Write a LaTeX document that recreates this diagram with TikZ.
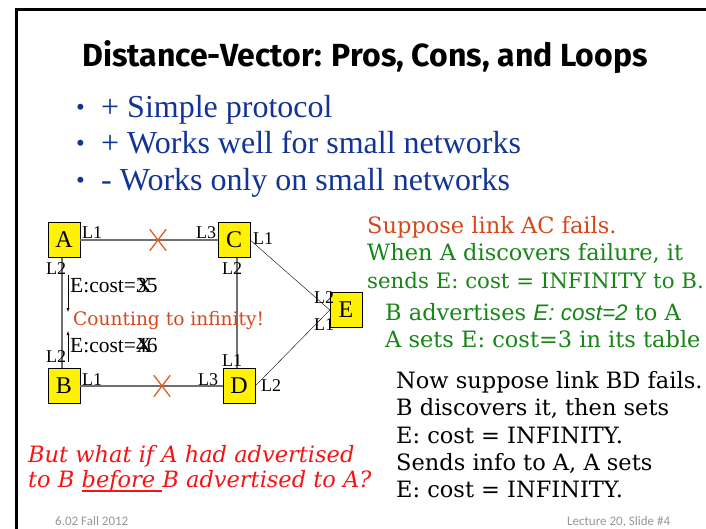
\documentclass[tikz,border=0pt]{standalone}
\usepackage{fontspec}
\setmainfont{DejaVu Serif}
\newfontfamily\titlefont{Fira Sans}
\newfontfamily\timesfont{Liberation Serif}
\newfontfamily\arialfont{Liberation Sans}
\newfontfamily\footfont{Carlito}
\usetikzlibrary{arrows,shapes,shapes.misc}
\newcommand{\setpx}[1]{\fontsize{#1}{#1}\selectfont}
\newsavebox{\ulbox}
\newcommand{\redline}[1]{\sbox{\ulbox}{#1}\rlap{\rule[-5pt]{\wd\ulbox}{1.6pt}}\usebox{\ulbox}}
\definecolor{bulletblue}{RGB}{18,52,150}
\definecolor{rust}{RGB}{212,72,28}
\definecolor{pgreen}{RGB}{22,134,22}
\definecolor{askred}{RGB}{245,20,20}
\definecolor{linkgray}{RGB}{112,112,112}
\definecolor{footgray}{RGB}{150,150,150}
\definecolor{cutorange}{RGB}{232,90,35}
\tikzstyle{router}=[draw,fill=yellow,minimum width=32pt,minimum height=35pt,inner sep=0pt,font=\timesfont\setpx{24}]
\tikzstyle{link}=[draw=linkgray,line width=2pt]
\tikzstyle{wire}=[draw,thin]
\tikzstyle{port}=[inner sep=0pt,font=\timesfont\setpx{18}]
\tikzstyle{cut}=[cross out,draw=cutorange,line width=1.3pt,minimum width=15pt,minimum height=20pt,inner sep=0pt]
\tikzstyle{txt}=[anchor=base west,inner sep=0pt]
\begin{document}
\begin{tikzpicture}[x=1pt,y=-1pt]
    \useasboundingbox (0,0) rectangle (706,528);
    \clip (0,0) rectangle (706,528);
    % Slide frame and title
    \draw[line width=3pt] (16,540) -- (16,9) -- (720,9);
    \node[txt,font=\titlefont\bfseries\setpx{32}] (title) at (82,66) {Distance-Vector: Pros, Cons, and Loops};
    % Bullet list
    \foreach \y/\name/\txt in {117/pro1/{+ Simple protocol}, 153/pro2/{+ Works well for small networks}, 190/con1/{- Works only on small networks}}{
        \node[txt,font=\timesfont\setpx{25},text=bulletblue] (dot-\name) at (76,\y-2) {\textbullet};
        \node[txt,font=\timesfont\setpx{32},text=bulletblue] (\name) at (101,\y) {\txt};
    }
    % First we draw the routers
    \foreach \pos/\name in {{(64,240)/A}, {(234,240)/C}, {(64,386)/B}, {(239,386)/D}, {(346,310)/E}}
        \node[router] (\name) at \pos {\name};
    % Connect routers with links
    \path[link] (A) -- (C);
    \path[link] (B) -- (D);
    \path[link] ([xshift=-2pt]A.south) -- ([xshift=-2pt]B.north);
    \path[link] ([xshift=3pt]C.south) -- ([xshift=3pt]C.south |- D.north);
    \path[wire] (C.east) -- (E.west);
    \path[wire] (D.east) -- (E.west);
    % Failed links
    \node[cut] (cutAC) at (158,240) {};
    \node[cut] (cutBD) at (162,386) {};
    % Port labels
    \foreach \pos/\name/\lbl in {{(92,233)/pA1/L1}, {(56,269)/pA2/L2}, {(206,233)/pC3/L3}, {(263,239)/pC1/L1}, {(232,269)/pC2/L2},
        {(324,298)/pE2/L2}, {(324,325)/pE1/L1}, {(56,357)/pB2/L2}, {(92,380)/pB1/L1}, {(232,361)/pD1/L1}, {(208,380)/pD3/L3}, {(271,386)/pD2/L2}}
        \node[port] (\name) at \pos {\lbl};
    % Advertisements between A and B
    \node[txt,font=\timesfont\setpx{21.5}] (msgAB) at (70,292) {E:cost=\rlap{X}35};
    \node[txt,font=\timesfont\setpx{21.5}] (msgBA) at (70,352) {E:cost=\rlap{X}46};
    \coordinate (msgAB-top) at (68,275);
    \coordinate (msgAB-end) at (68,312);
    \coordinate (msgBA-top) at (68,362);
    \coordinate (msgBA-end) at (68,331);
    \draw[-latex] (msgAB-top) -- (msgAB-end);
    \draw[-latex] (msgBA-top) -- (msgBA-end);
    \node[txt,font=\setpx{18.6},text=rust] (count) at (73,325) {Counting to infinity!};
    % Story on the right
    \node[txt,font=\setpx{22.5},text=rust] (suppose) at (367,233) {Suppose link AC fails.};
    \node[txt,font=\setpx{22.5},text=pgreen] (when1) at (367,260) {When A discovers failure, it};
    \node[txt,font=\setpx{21.3},text=pgreen] (when2) at (367,288) {sends E: cost = INFINITY to B.};
    \foreach \pos/\name/\txt in {{(385,320)/badv/{B advertises {\arialfont\itshape E: cost=2} to A}}, {(385,347)/asets/{A sets E: cost=3 in its table}}}
        \node[txt,font=\setpx{22.5},text=pgreen] (\name) at \pos {\txt};
    \foreach \y/\name/\txt in {388/bd1/{Now suppose link BD fails.}, 415/bd2/{B discovers it, then sets}, 443/bd3/{E: cost = INFINITY.},
        470/bd4/{Sends info to A, A sets}, 497/bd5/{E: cost = INFINITY.}}
        \node[txt,font=\setpx{22.5}] (\name) at (396,\y) {\txt};
    \node[txt,font=\itshape\setpx{22.5},text=askred] (ask1) at (28,462) {But what if A had advertised};
    \node[txt,font=\itshape\setpx{22.5},text=askred] (ask2) at (28,487) {to B \redline{before }B advertised to A?};
    % Footer
    \node[txt,font=\footfont\setpx{13},text=footgray] (footL) at (55,525) {6.02 Fall 2012};
    \node[txt,font=\footfont\setpx{13},text=footgray] (footR) at (567,525) {Lecture 20, Slide \#4};
\end{tikzpicture}
\end{document}
